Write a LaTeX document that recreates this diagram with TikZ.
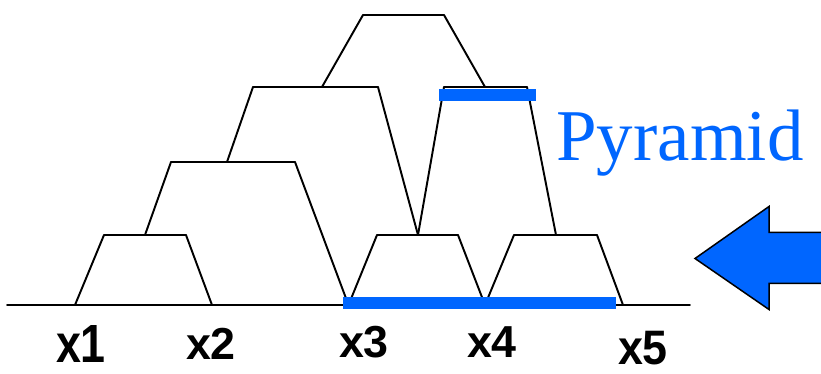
\documentclass[tikz,border=0pt]{standalone}
\usepackage{fontspec}
\setsansfont{Liberation Sans}
\newfontfamily\pyrfont{Liberation Serif}
\usepackage{tkz-euclide}
\definecolor{pyrblue}{RGB}{0,102,255}

\begin{document}
\begin{tikzpicture}[line join=round, line cap=round,
	tier/.style={line width=1.1pt},
	lab/.style={font=\fontsize{25.5}{25.5}\selectfont\sffamily\bfseries, inner sep=0pt}]
	\clip (0,-1.38) rectangle (16.42,6.1);
	\tkzDefPoints{0.14/0/L, 13.8/0/R}
	% left stack
	\tkzDefPoints{1.5/0/A1, 2.08/1.4/A2, 3.72/1.4/A3, 4.24/0/A4}
	\tkzDefPoints{2.9/1.4/B1, 3.42/2.86/B2, 5.9/2.86/B3, 6.97/0/B4}
	\tkzDefPoints{4.54/2.86/C1, 5.06/4.36/C2, 7.56/4.36/C3, 8.36/1.4/C4}
	\tkzDefPoints{6.44/4.36/D1, 7.26/5.8/D2, 8.88/5.8/D3, 9.7/4.36/D4}
	% right stack
	\tkzDefPoints{8.36/1.4/E1, 8.88/4.36/E2, 10.54/4.36/E3, 11.12/1.4/E4}
	\tkzDefPoints{6.97/0/F1, 7.54/1.4/F2, 9.16/1.4/F3, 9.7/0/F4}
	\tkzDefPoints{9.7/0/G1, 10.28/1.4/G2, 11.94/1.4/G3, 12.46/0/G4}
	\tkzDrawSegments[tier](L,R)
	\tkzDrawSegments[tier](A1,A2 A2,A3 A3,A4 B1,B2 B2,B3 B3,B4)
	\tkzDrawSegments[tier](C1,C2 C2,C3 C3,C4 D1,D2 D2,D3 D3,D4)
	\tkzDrawSegments[tier](E1,E2 E2,E3 E3,E4 F1,F2 F2,F3 F3,F4)
	\tkzDrawSegments[tier](G1,G2 G2,G3 G3,G4)
	% blue bars
	\fill[pyrblue] (6.86,-0.08) rectangle (12.32,0.16);
	\fill[pyrblue] (8.78,4.08) rectangle (10.72,4.32);
	\node[anchor=base west, inner sep=0pt, text=pyrblue,
		font=\fontsize{41.5}{41.5}\selectfont\pyrfont] (pyr) at (11.12,2.88) {Pyramid};
	% arrow
	\filldraw[fill=pyrblue, draw=black, line width=0.85pt, line cap=butt, line join=miter]
		(13.9,0.93) -- (15.38,1.97) -- (15.38,1.45) -- (16.8,1.45)
		-- (16.8,0.43) -- (15.38,0.43) -- (15.38,-0.09) -- cycle;
	% labels
	\node[lab] (x1) at (1.62,-0.79) {\scalebox{1}[1.2]{x1}};
	\node[lab] (x2) at (4.22,-0.77) {x2};
	\node[lab] (x3) at (7.28,-0.74) {x3};
	\node[lab] (x4) at (9.84,-0.75) {x4};
	\node[lab] (x5) at (12.86,-0.86) {\scalebox{1}[1.08]{x5}};
\end{tikzpicture}
\end{document}
